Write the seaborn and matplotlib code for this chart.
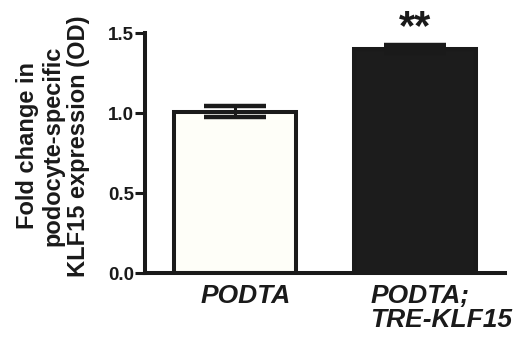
import matplotlib
matplotlib.use("Agg")
import matplotlib.pyplot as plt
import matplotlib.transforms as mtransforms
import seaborn as sns
import pandas as pd

sns.set_style("ticks")
plt.rcParams['font.family'] = ['Liberation Sans', 'DejaVu Sans']

groups = ["PODTA", "PODTA;\nTRE-KLF15"]
means = [1.01, 1.40]
sems = [0.037, 0.025]
fills = ["#fffff7", "#1c1c1c"]
stars = ["", "**"]
y_ticks = [0.0, 0.5, 1.0, 1.5]

ink = "#1a1a1a"
df = pd.DataFrame({"group": groups, "fold": means})

fig = plt.figure(figsize=(5.17, 3.38), dpi=100)
ax = fig.add_axes([0.2805, 0.192, 0.6965, 0.710])

sns.barplot(data=df, x="group", y="fold", hue="group", palette=fills,
            errorbar=None, width=0.68, edgecolor=ink, linewidth=2.9,
            legend=False, ax=ax)

# error bars, drawn after the bars so the lower cap shows on the light bar
for i, (m, s) in enumerate(zip(means, sems)):
    ax.errorbar(i, m, yerr=s, fmt="none", ecolor=ink, elinewidth=2.2,
                capsize=22.5, capthick=3.2, zorder=5)
    if stars[i]:
        ax.annotate(stars[i], (i, m + s), xytext=(0, -2), textcoords="offset points",
                    ha="center", va="bottom", fontsize=30, fontweight="bold",
                    color=ink, annotation_clip=False)

ax.set_xlim(-0.5, 1.5)
ax.set_ylim(0, 1.5)
ax.set_yticks(y_ticks)
ax.set_yticklabels([f"{t:.1f}" for t in y_ticks])
ax.set_xlabel("")
ax.set_ylabel("Fold change in\npodocyte-specific\nKLF15 expression (OD)",
              fontsize=17, fontweight="bold", color=ink, linespacing=1.15)
ax.yaxis.set_label_coords(-0.152, 0.53)

for side in ["top", "right"]:
    ax.spines[side].set_visible(False)
for side in ["left", "bottom"]:
    ax.spines[side].set_linewidth(2.9)
    ax.spines[side].set_color(ink)

ax.tick_params(axis="y", length=7, width=2.2, color=ink, labelsize=13.5,
               labelcolor=ink, pad=1)
ax.tick_params(axis="x", length=0, labelsize=19, labelcolor=ink, pad=8)
for lab in ax.get_yticklabels():
    lab.set_fontweight("bold")

offsets = [11, 26]
for lab, dx in zip(ax.get_xticklabels(), offsets):
    lab.set_fontweight("bold")
    lab.set_fontstyle("italic")
    lab.set_multialignment("left")
    lab.set_linespacing(1.0)
    lab.set_transform(lab.get_transform() +
                      mtransforms.ScaledTranslation(dx / 100, 0, fig.dpi_scale_trans))

fig.savefig("out.png", dpi=100)
